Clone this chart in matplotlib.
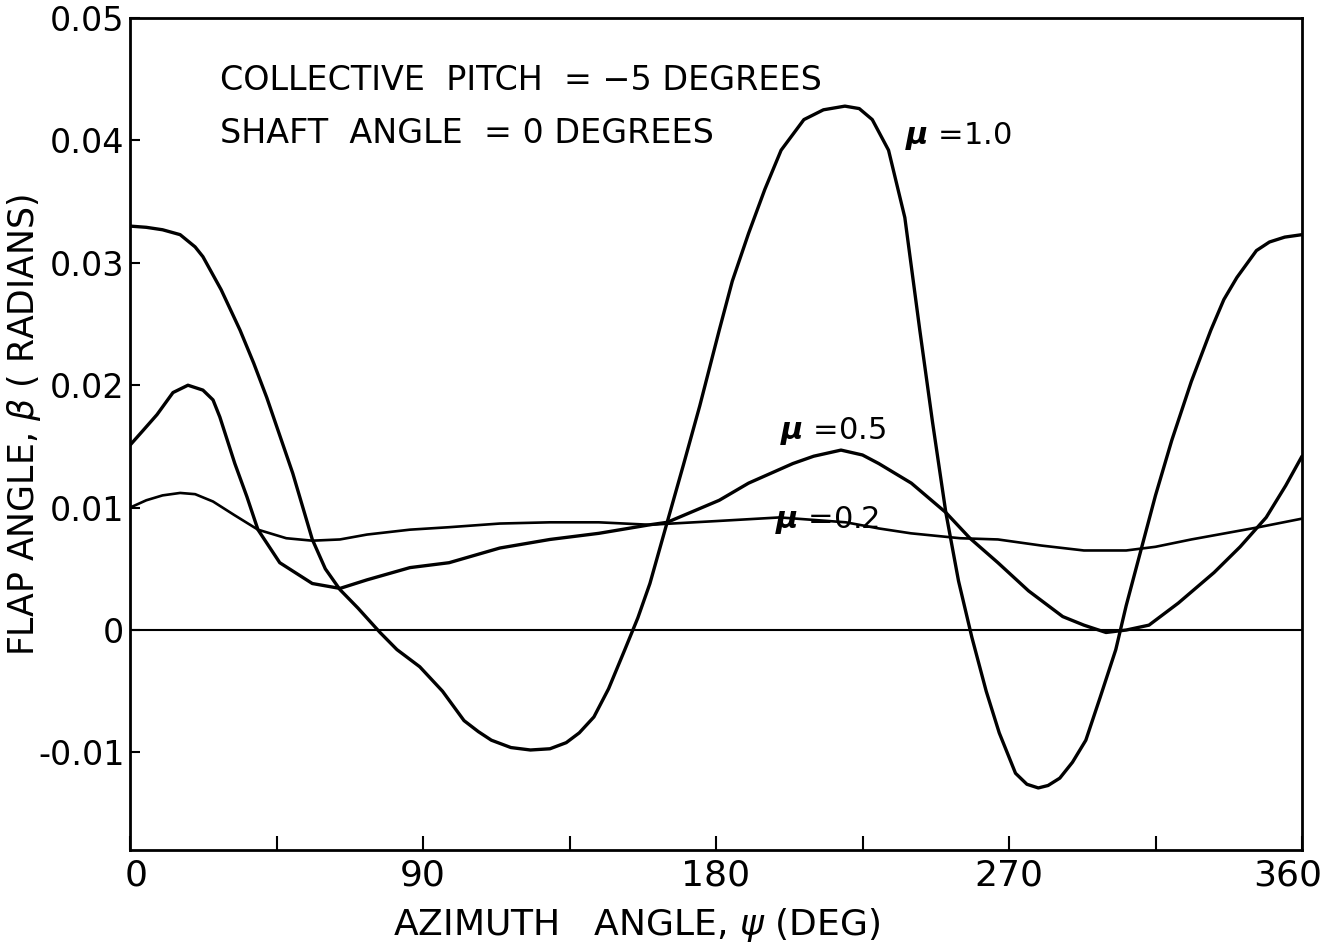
import matplotlib
matplotlib.use("Agg")
import matplotlib.pyplot as plt
import matplotlib.transforms as mtransforms

plt.rcParams['font.family'] = ['DejaVu Sans']

# ---- data (azimuth deg, flap angle rad) ----
psi_10 = [0, 5, 10, 15.4, 20, 22.4, 28, 33.8, 38, 42, 46, 50, 56, 60, 64.5, 70, 76.8, 82, 89, 96,
          102.6, 107, 111, 117, 123, 129, 134, 138, 142.5, 147, 152, 156, 159.7, 165, 170, 175,
          181, 185, 190, 195, 200, 207, 213, 219.6, 224, 228, 233, 238, 242.6, 246.5, 250.6,
          254.5, 258.6, 263, 267, 272, 275.5, 279, 282, 285.6, 289.5, 293.6, 298, 302.8, 306,
          310.5, 315, 320, 326, 332, 336, 340, 346, 350, 354.7, 360]
beta_10 = [0.0330, 0.0329, 0.0327, 0.0323, 0.0313, 0.0305, 0.0278, 0.0245, 0.0218, 0.0190,
           0.0159, 0.0128, 0.0074, 0.0050, 0.0033, 0.0018, -0.0002, -0.0016, -0.0030, -0.0050,
           -0.0074, -0.0083, -0.0090, -0.0096, -0.0098, -0.0097, -0.0092, -0.0084, -0.0071,
           -0.0048, -0.0016, 0.0010, 0.0038, 0.0088, 0.0135, 0.0183, 0.0245, 0.0285, 0.0324,
           0.0360, 0.0392, 0.0417, 0.0425, 0.0428, 0.0426, 0.0417, 0.0392, 0.0337, 0.0245,
           0.0170, 0.0096, 0.0040, -0.0006, -0.0050, -0.0084, -0.0117, -0.0126, -0.0129,
           -0.0127, -0.0121, -0.0108, -0.0090, -0.0055, -0.0016, 0.0020, 0.0065, 0.0110,
           0.0155, 0.0203, 0.0245, 0.0270, 0.0288, 0.0310, 0.0317, 0.0321, 0.0323]

psi_05 = [0, 4, 8.3, 13.2, 17.8, 22.4, 25.5, 27.6, 32.2, 35.9, 39.3, 46, 56, 64.5, 72.8, 86, 98,
          113.6, 129, 144, 159.7, 165, 181, 190, 203.6, 210, 218.4, 225, 230, 240, 250.6, 258,
          266.6, 276, 286.5, 293, 299.8, 306, 313, 322, 333, 341, 349, 355, 360]
beta_05 = [0.0151, 0.0163, 0.0176, 0.0194, 0.0200, 0.0196, 0.0188, 0.0174, 0.0136, 0.0109,
           0.0082, 0.0055, 0.0038, 0.0034, 0.0041, 0.0051, 0.0055, 0.0067, 0.0074, 0.0079,
           0.0086, 0.0088, 0.0106, 0.0120, 0.0136, 0.0142, 0.0147, 0.0143, 0.0136, 0.0120,
           0.0096, 0.0075, 0.0055, 0.0032, 0.0011, 0.0004, -0.0002, 0.0000, 0.0004, 0.0022,
           0.0047, 0.0068, 0.0092, 0.0118, 0.0142]

psi_02 = [0, 5, 10, 15.4, 20, 25.5, 32, 39.3, 48, 56, 64.5, 72.8, 86, 98, 113.6, 129, 144,
          159.7, 180, 199.6, 219.9, 230, 239.9, 255, 266.6, 280, 293, 306, 315, 326, 346.7, 360]
beta_02 = [0.0100, 0.0106, 0.0110, 0.0112, 0.0111, 0.0105, 0.0094, 0.0082, 0.0075, 0.0073,
           0.0074, 0.0078, 0.0082, 0.0084, 0.0087, 0.0088, 0.0088, 0.0086, 0.0089, 0.0092,
           0.0088, 0.0083, 0.0079, 0.0075, 0.0074, 0.0069, 0.0065, 0.0065, 0.0068, 0.0074,
           0.0084, 0.0091]

x_ticks = [0, 90, 180, 270, 360]
x_minor = [45, 135, 225, 315]
y_ticks = [-0.01, 0, 0.01, 0.02, 0.03, 0.04, 0.05]
y_ticklabels = ['-0.01', '0', '0.01', '0.02', '0.03', '0.04', '0.05']

fig = plt.figure(figsize=(13.28, 9.52), dpi=100)
ax = fig.add_axes([130/1328, 1-850/952, (1302-130)/1328, (850-18)/952])

ax.plot(psi_10, beta_10, color='black', lw=2.4, solid_capstyle='round', solid_joinstyle='round')
ax.plot(psi_05, beta_05, color='black', lw=2.4, solid_capstyle='round', solid_joinstyle='round')
ax.plot(psi_02, beta_02, color='black', lw=1.9, solid_capstyle='round', solid_joinstyle='round')
ax.axhline(0, color='black', lw=1.5)

ax.set_xlim(0, 360)
ax.set_ylim(-0.01797, 0.05)
ax.set_xticks(x_ticks)
ax.set_xticks(x_minor, minor=True)
ax.set_xticklabels([str(v) for v in x_ticks])
ax.set_yticks(y_ticks)
ax.set_yticklabels(y_ticklabels)
ax.tick_params(axis='both', which='both', direction='in', width=1.5)
ax.tick_params(axis='x', which='both', length=10, pad=6, labelsize=26)
ax.tick_params(axis='y', which='both', length=7, pad=4, labelsize=24)
for s in ax.spines.values():
    s.set_linewidth(2)

# nudge end tick labels inward like the reference
xl = ax.get_xticklabels()
xl[0].set_transform(xl[0].get_transform() + mtransforms.ScaledTranslation(6/100, 0, fig.dpi_scale_trans))
xl[-1].set_transform(xl[-1].get_transform() + mtransforms.ScaledTranslation(-14/100, 0, fig.dpi_scale_trans))

ax.set_xlabel('AZIMUTH   ANGLE, $\\psi$ (DEG)', fontsize=26)
ax.xaxis.set_label_coords((637-130)/1172, -(925-850)/832)
ax.xaxis.label.set_va('center')
ax.set_ylabel('FLAP ANGLE, $\\beta$ ( RADIANS)', fontsize=25)
ax.yaxis.set_label_coords((24-130)/1172, (850-425)/832)
ax.yaxis.label.set_va('center')

ax.text(27.6, 0.0449, 'COLLECTIVE  PITCH  = \u22125 DEGREES', fontsize=24, va='center', ha='left')
ax.text(27.6, 0.0406, 'SHAFT  ANGLE  = 0 DEGREES', fontsize=24, va='center', ha='left')
ax.text(238, 0.0404, '$\\boldsymbol{\\mu}$ =1.0', fontsize=22, va='center', ha='left')
ax.text(199.6, 0.0163, '$\\boldsymbol{\\mu}$ =0.5', fontsize=22, va='center', ha='left')
ax.text(198, 0.0090, '$\\boldsymbol{\\mu}$ =0.2', fontsize=22, va='center', ha='left')

fig.savefig('out.png', dpi=100)
